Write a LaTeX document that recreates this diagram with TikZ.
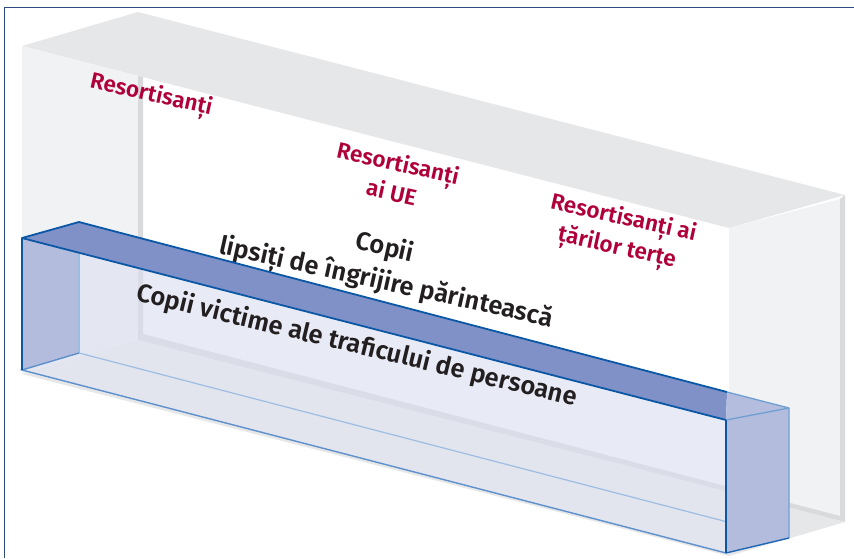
\documentclass[tikz,border=0pt]{standalone}
\usepackage{fontspec}
\setmainfont{Fira Sans}[UprightFont={* SemiBold}]
\definecolor{topgray}{HTML}{E6E7E8}
\definecolor{sidegray}{HTML}{F1F2F4}
\definecolor{edgegray}{HTML}{D9DADC}
\definecolor{frameblue}{HTML}{2D4C7E}
\definecolor{bluetop}{HTML}{8091C8}
\definecolor{blueside}{HTML}{B3BCDC}
\definecolor{bluefront}{HTML}{E8EAF5}
\definecolor{bluedark}{HTML}{0A57A6}
\definecolor{bluelight}{HTML}{6E9FD3}
\definecolor{bluepale}{HTML}{9DBDE2}
\definecolor{bluemid}{HTML}{5D90CC}
\definecolor{redtext}{HTML}{B0003A}
\definecolor{blacktext}{HTML}{231F20}
\tikzset{
  redlabel/.style={text=redtext, font=\fontsize{22.5}{30}\selectfont, align=center, rotate=-12.5, inner sep=0pt},
  blacklabel/.style={text=blacktext, font=\fontsize{25.5}{29}\selectfont, align=center, rotate=-13, inner sep=0pt},
  darkedge/.style={draw=bluedark, line width=1.8pt, line join=round},
  lightedge/.style={draw=bluelight, line width=1.3pt, line join=round},
}
\begin{document}
\begin{tikzpicture}[x=1pt,y=-1pt]
\useasboundingbox (0,0) rectangle (854,558);
% gray box
\coordinate (gFTL) at (22,46);
\coordinate (gBTL) at (138,12);
\coordinate (gBTR) at (845,195);
\coordinate (gFTR) at (729,228);
\coordinate (gLF) at (138,75.9);
\coordinate (gLS) at (143,77.1);
\coordinate (gLB) at (143,334);
\coordinate (gBBL) at (138,340);
\coordinate (gFBL) at (22,374);
\coordinate (gFBR) at (729,556);
\coordinate (gBBR) at (845,522);
\coordinate (gRS) at (840,199);
\coordinate (gRB) at (840,516);
\fill[topgray] (gFTL) -- (gBTL) -- (gBTR) -- (gFTR) -- cycle;
\fill[sidegray] (gFTL) -- (gLF) -- (gBBL) -- (gFBL) -- cycle;
\fill[edgegray] (gLF) -- (gLS) -- (gLB) -- (gBBL) -- cycle;
\fill[sidegray] (gFTR) -- (gRS) -- (gRB) -- (gFBR) -- cycle;
\fill[edgegray] (gRS) -- (gBTR) -- (gBBR) -- (gRB) -- cycle;
\fill[edgegray] (gLB) -- (gRB) -- (gBBR) -- (gBBL) -- cycle;
\fill[topgray] (gFBL) -- (gFBR) -- (gBBR) -- (gBBL) -- cycle;
% frame
\draw[frameblue, line width=1.6pt] (4.5,558) -- (4.5,7.5) -- (854,7.5);
% texts on back wall
\node[redlabel] (r1) at (151,96) {Resortisanți};
\node[redlabel] (r2) at (395,177) {Resortisanți\\ai UE};
\node[redlabel] (r3) at (620,234) {Resortisanți ai\\țărilor terțe};
\node[blacklabel, rotate=0.5] (c1) at (385,248) {Copii};
\node[blacklabel, rotate=0.5] (c2) at (386,284) {lipsiți de îngrijire părintească};
% blue box
\coordinate (bFTL) at (22,238);
\coordinate (bBTL) at (79,222);
\coordinate (bBTR) at (789,408);
\coordinate (bFTR) at (726,420);
\coordinate (bFBL) at (22,370);
\coordinate (bFBR) at (726,553);
\coordinate (bBBL) at (79,353);
\coordinate (bBBR) at (789,538);
\coordinate (bLF) at (79,252.7);
\coordinate (bSplit) at (727,392);
\begin{scope}
\clip (bFTL) -- (bFTR) -- (bFBR) -- (bFBL) -- cycle;
\fill[bluefront] (0,0) rectangle (854,558);
\fill[fill={rgb,255:red,228;green,231;blue,242}] (gFTL) -- (gLF) -- (gBBL) -- (gFBL) -- cycle;
\fill[fill={rgb,255:red,217;green,220;blue,231}] (gLF) -- (gLS) -- (gLB) -- (gBBL) -- cycle;
\fill[fill={rgb,255:red,218;green,221;blue,231}] (gLB) -- (gRB) -- (gBBR) -- (gBBL) -- cycle;
\fill[fill={rgb,255:red,226;green,229;blue,238}] (gFBL) -- (gFBR) -- (gBBR) -- (gBBL) -- cycle;
\end{scope}
\draw[bluepale, line width=1.2pt] (bLF) -- (bBBL) -- (bBBR);
\fill[blueside] (bFTL) -- (bBTL) -- (bBBL) -- (bFBL) -- cycle;
\draw[bluepale, line width=1.2pt] (bLF) -- (bBBL);
\fill[bluetop] (bFTL) -- (bBTL) -- (bSplit) -- (bFTR) -- cycle;
\fill[fill={rgb,255:red,180;green,189;blue,221}] (bSplit) -- (bBTR) -- (bFTR) -- cycle;
\fill[blueside] (bFTR) -- (bBTR) -- (bBBR) -- (bFBR) -- cycle;
\draw[bluemid, line width=1.4pt] (bBBL) -- (bFBL) -- (bFBR);
\draw[lightedge] (bSplit) -- (bBTR) -- (bBBR);
\draw[lightedge] (bFTR) -- (bBTR);
\draw[draw={rgb,255:red,31;green,103;blue,180}, line width=1.4pt] (bFBR) -- (bBBR);
\draw[darkedge] (bSplit) -- (bBTL) -- (bFTL) -- (bFTR);
\draw[darkedge, line width=2.4pt] (bFTL) -- (bFBL);
\draw[darkedge, line width=1.5pt] (bFTR) -- (bFBR);
\node[blacklabel, rotate=-0.5] (c3) at (357,346) {Copii victime ale traficului de persoane};
\end{tikzpicture}
\end{document}
